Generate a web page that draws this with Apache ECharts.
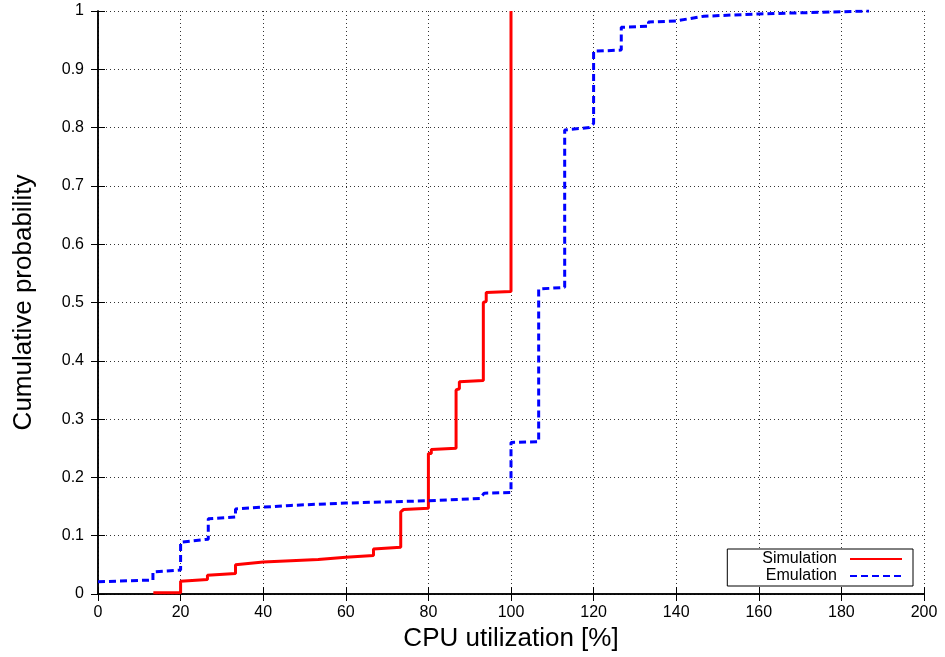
<!DOCTYPE html>
<html>
<head>
<meta charset="utf-8">
<script src="https://cdn.jsdelivr.net/npm/echarts@6/dist/echarts.min.js"></script>
<style>
  html, body { margin: 0; padding: 0; background: #fff; }
  #chart { width: 945px; height: 657px; }
</style>
</head>
<body>
<div id="chart"></div>
<script>
// CDF of CPU utilization, simulation vs. emulation
const xTicks = [0, 20, 40, 60, 80, 100, 120, 140, 160, 180, 200];
const yTicks = [0, 0.1, 0.2, 0.3, 0.4, 0.5, 0.6, 0.7, 0.8, 0.9, 1];

const simX = [13.4, 20, 20, 26.5, 26.5, 33.3, 33.3, 40, 46.7, 53.3, 60, 66.7, 66.7, 73.3, 73.3, 74, 80, 80, 80.7, 80.7, 86.7, 86.7, 87.5, 87.5, 93.3, 93.3, 94, 94, 100, 100];
const simY = [0.002, 0.002, 0.022, 0.025, 0.032, 0.035, 0.05, 0.055, 0.057, 0.059, 0.063, 0.066, 0.077, 0.08, 0.141, 0.145, 0.147, 0.241, 0.241, 0.248, 0.25, 0.35, 0.352, 0.364, 0.366, 0.5, 0.502, 0.517, 0.519, 1];

const emuX = [0, 13.3, 13.3, 20, 20, 26.7, 26.7, 33.3, 33.3, 40, 46.7, 60, 80, 92.5, 93.5, 100, 100, 106.7, 106.7, 113, 113, 119, 120, 120, 126.7, 126.7, 133.3, 133.3, 140, 140, 146.7, 160, 186.7];
const emuY = [0.021, 0.024, 0.038, 0.041, 0.089, 0.094, 0.129, 0.132, 0.146, 0.149, 0.152, 0.156, 0.160, 0.164, 0.173, 0.174, 0.26, 0.261, 0.523, 0.526, 0.796, 0.8, 0.807, 0.931, 0.933, 0.972, 0.974, 0.981, 0.983, 0.986, 0.991, 0.995, 1.0];

const pairs = (xs, ys) => xs.map((x, i) => [x, ys[i]]);

const FONT = '"Liberation Sans", Arial, sans-serif';
const gridLine = { show: true, lineStyle: { color: '#333', width: 1, type: [1, 3] } };
const tickIn = { show: true, inside: true, length: 7, lineStyle: { color: '#000', width: 1 } };
const axLine = { show: true, lineStyle: { color: '#000', width: 1.5 } };

const chart = echarts.init(document.getElementById('chart'), null, { renderer: 'canvas' });
chart.setOption({
  animation: false,
  backgroundColor: '#fff',
  textStyle: { fontFamily: FONT },
  grid: { left: 98, right: 21, top: 11, bottom: 63, containLabel: false },
  xAxis: [{
    type: 'value', min: xTicks[0], max: xTicks[xTicks.length - 1], interval: 20,
    axisLine: axLine, axisTick: tickIn, splitLine: gridLine,
    axisLabel: { color: '#000', fontSize: 16, margin: 11, fontFamily: FONT },
    name: 'CPU utilization [%]', nameLocation: 'middle', nameGap: 30,
    nameTextStyle: { color: '#000', fontSize: 26, fontFamily: FONT }
  }, {
    type: 'value', position: 'top', min: xTicks[0], max: xTicks[xTicks.length - 1], interval: 20,
    axisLine: axLine, axisTick: tickIn, splitLine: { show: false }, axisLabel: { show: false }
  }],
  yAxis: [{
    type: 'value', min: yTicks[0], max: yTicks[yTicks.length - 1], interval: 0.1,
    axisLine: axLine, axisTick: tickIn, splitLine: gridLine,
    axisLabel: { color: '#000', fontSize: 16, margin: 14, fontFamily: FONT,
      formatter: v => String(Math.round(v * 10) / 10) },
    name: 'Cumulative probability', nameLocation: 'middle', nameGap: 61,
    nameTextStyle: { color: '#000', fontSize: 26, fontFamily: FONT }
  }, {
    type: 'value', position: 'right', min: yTicks[0], max: yTicks[yTicks.length - 1], interval: 0.1,
    axisLine: axLine, axisTick: tickIn, splitLine: { show: false }, axisLabel: { show: false }
  }],
  legend: {
    orient: 'vertical', right: 32, bottom: 71, align: 'right',
    itemWidth: 52, itemHeight: 14, itemGap: 1,
    padding: [2, 10, 2, 35],
    borderColor: '#000', borderWidth: 1, borderRadius: 0, backgroundColor: '#fff',
    itemStyle: { opacity: 0 },
    textStyle: { color: '#000', fontSize: 16, lineHeight: 16, fontFamily: FONT, padding: [0, 8, 0, 0] },
    data: ['Simulation', 'Emulation']
  },
  series: [{
    name: 'Simulation', type: 'line', showSymbol: false, symbol: 'none',
    data: pairs(simX, simY),
    lineStyle: { color: '#ff0000', width: 3 }, itemStyle: { color: '#ff0000' }
  }, {
    name: 'Emulation', type: 'line', showSymbol: false, symbol: 'none',
    data: pairs(emuX, emuY),
    lineStyle: { color: '#0000ff', width: 3, type: [7, 4] }, itemStyle: { color: '#0000ff' }
  }]
});
</script>
</body>
</html>
